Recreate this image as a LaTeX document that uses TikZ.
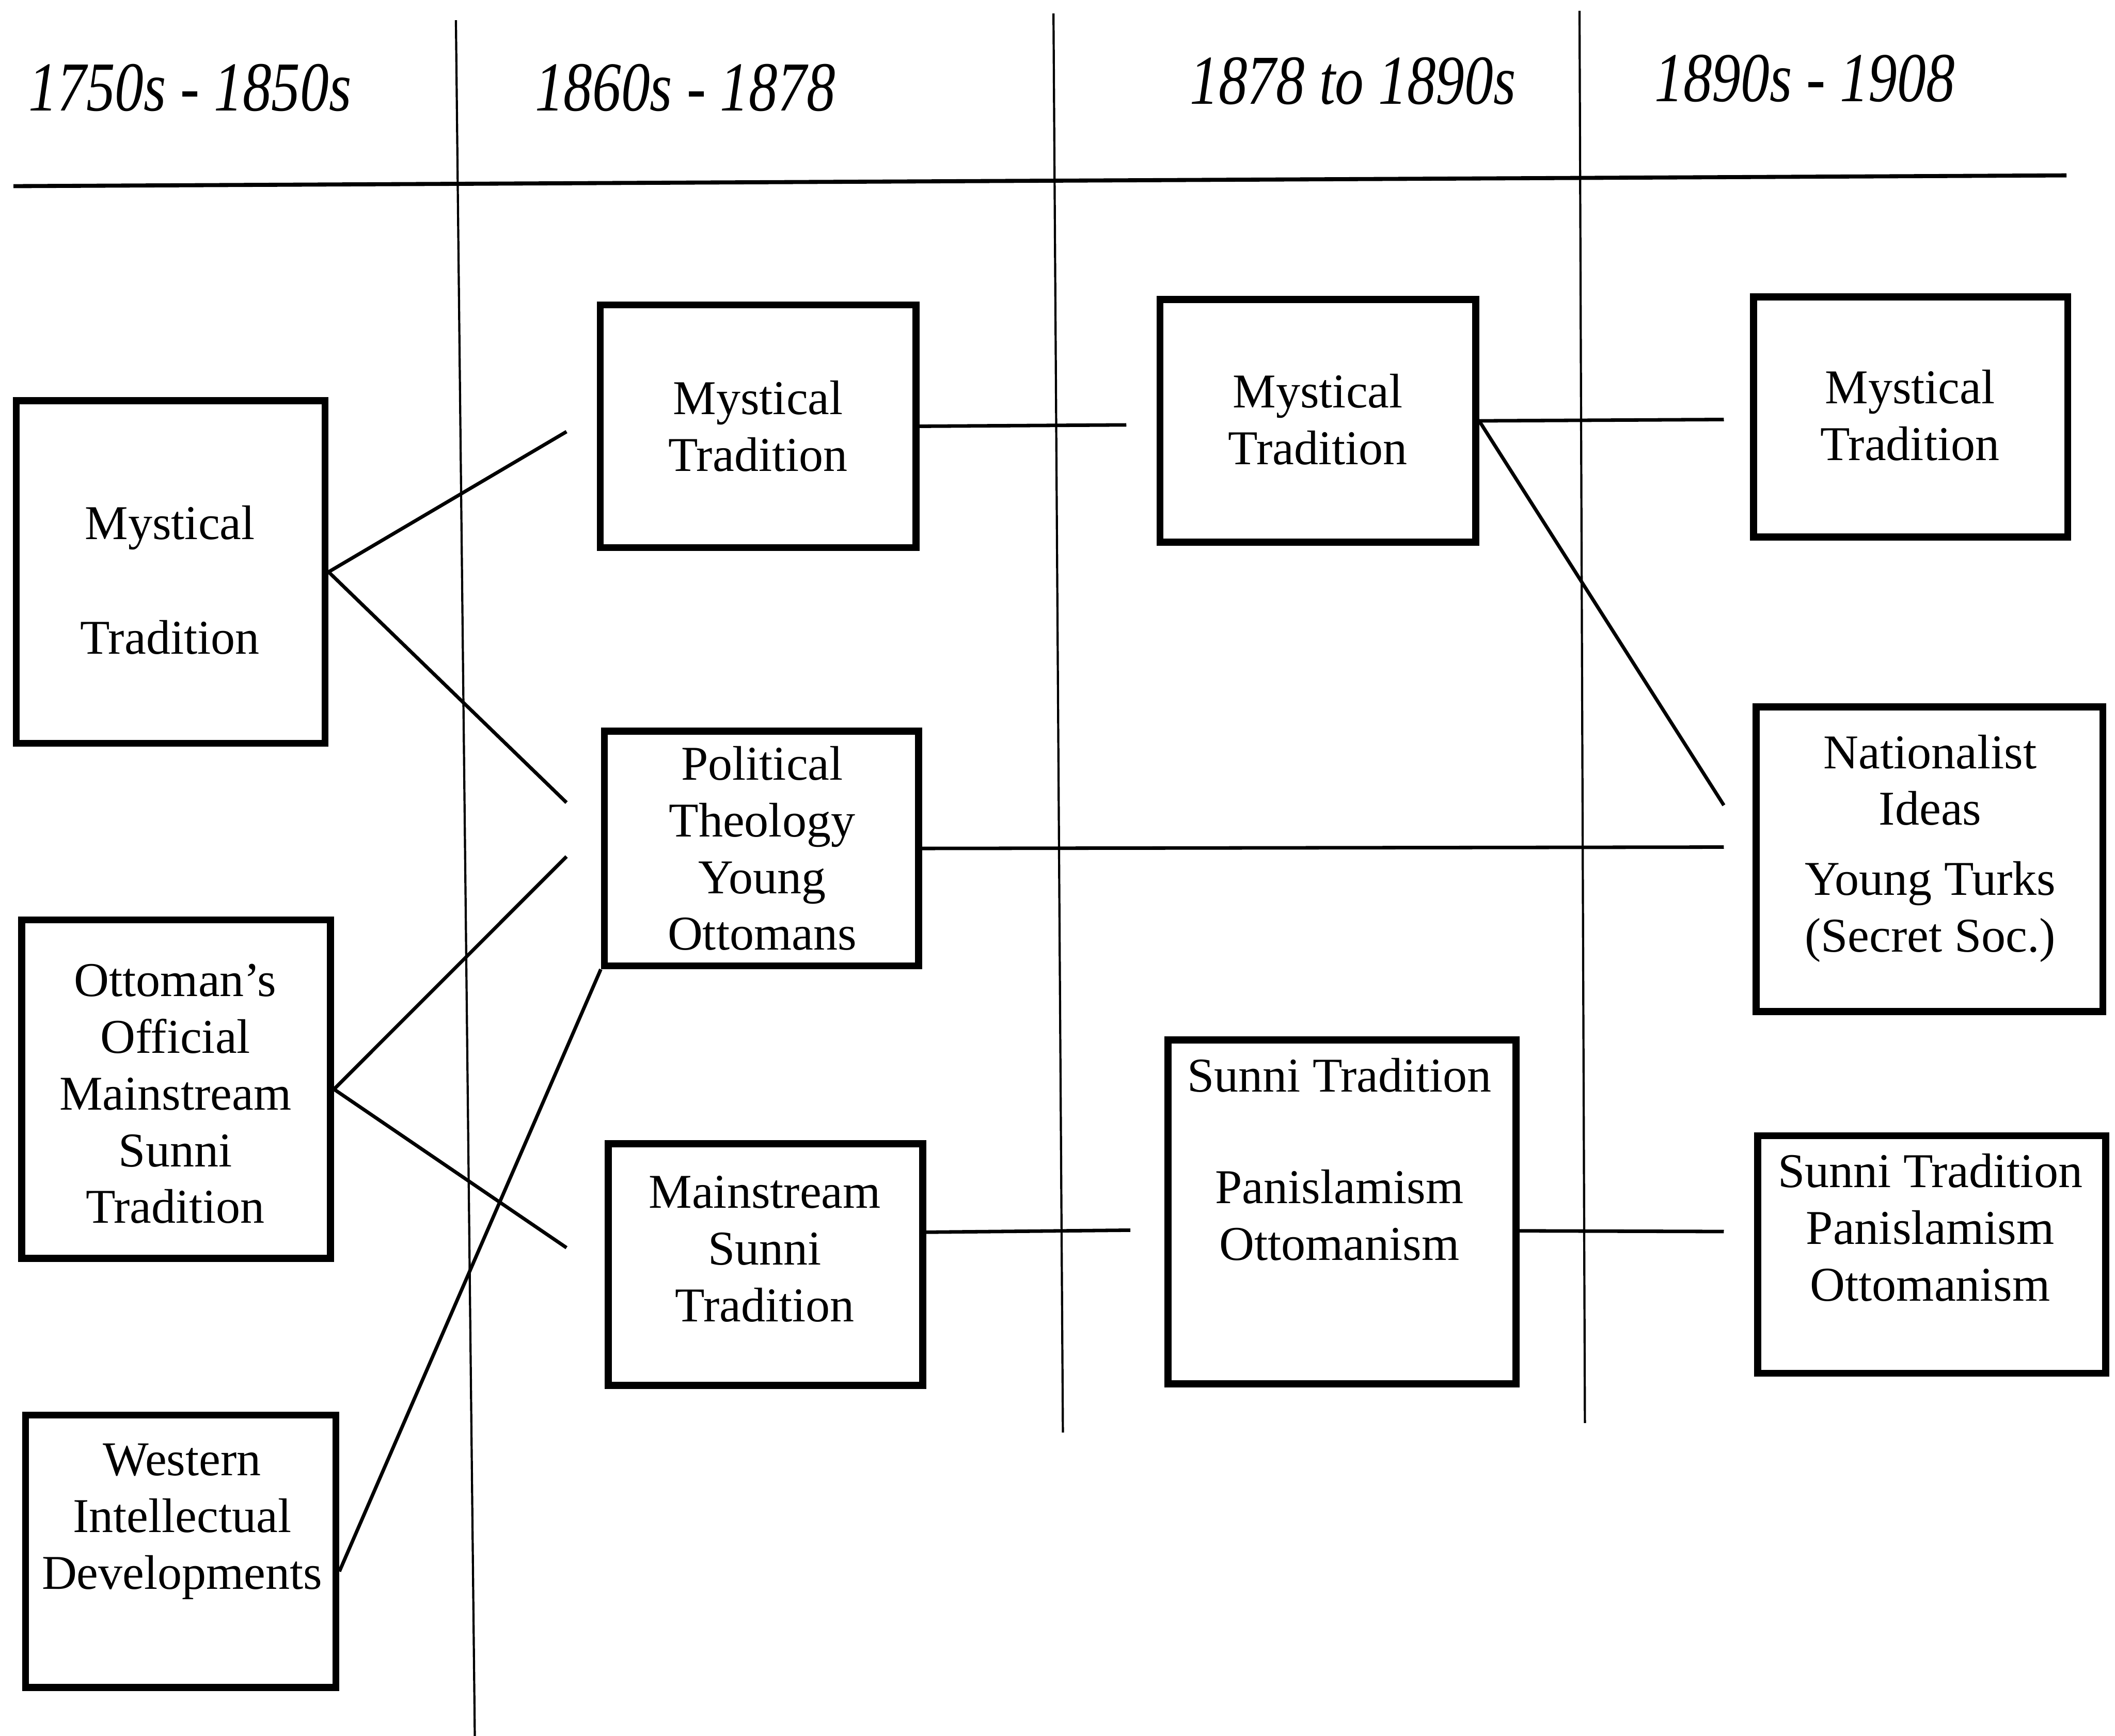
\documentclass[tikz,border=0pt]{standalone}
\usepackage{fontspec}
\setmainfont{Liberation Serif}
\newfontfamily\hdfont[FakeStretch=0.82]{Liberation Serif}
\begin{document}
\begin{tikzpicture}[x=0.5pt,y=-0.5pt,
  box/.style 2 args={draw,line width=2.6pt,inner sep=0pt,minimum width=#1*0.5pt,minimum height=#2*0.5pt},
  txt/.style={align=center,inner sep=0pt,font=\fontsize{18}{21}\selectfont},
  hd/.style={inner sep=0pt,font=\hdfont\itshape\fontsize{26}{30}\selectfont},
  conn/.style={line width=1.3pt},
  divider/.style={line width=0.8pt}]
\useasboundingbox (0,0) rectangle (1568,1287);
% headers
\node[hd] (h1) at (141,65) {1750s - 1850s};
\node[hd] (h2) at (508,65) {1860s - 1878};
\node[hd] (h3) at (1003,60) {1878 to 1890s};
\node[hd] (h4) at (1338,58) {1890s - 1908};
% dividers
\draw[line width=1.5pt] (10,138) -- (1532,130);
\draw[divider] (338,15) -- (352,1287);
\draw[divider] (781,10) -- (788,1062);
\draw[divider] (1171,8) -- (1175,1055);
% boxes
\node[box={229}{254}] (A) at (126.5,424) {};
\node[box={229}{251}] (B) at (130.5,807.5) {};
\node[box={230}{202}] (C) at (134,1150) {};
\node[box={234}{180}] (D) at (562,316) {};
\node[box={233}{174}] (E) at (564.5,629) {};
\node[box={233}{179}] (F) at (567.5,937.5) {};
\node[box={234}{180}] (G) at (977,312) {};
\node[box={258}{255}] (H) at (995,898.5) {};
\node[box={233}{178}] (I) at (1416.5,309) {};
\node[box={257}{226}] (J) at (1430.5,637) {};
\node[box={258}{176}] (K) at (1432,930) {};
% texts
\node[txt] (tA) at (126,430) {Mystical\\[21.5pt]Tradition};
\node[txt] (tB) at (130,811) {Ottoman’s\\Official\\Mainstream\\Sunni\\Tradition};
\node[txt] (tC) at (135,1128) {Western\\Intellectual\\Developments};
\node[txt] (tD) at (562,316) {Mystical\\Tradition};
\node[txt] (tE) at (565,629) {Political\\Theology\\Young\\Ottomans};
\node[txt] (tF) at (567,926) {Mainstream\\Sunni\\Tradition};
\node[txt] (tG) at (977,311) {Mystical\\Tradition};
\node[txt] (tH1) at (993,797) {Sunni Tradition};
\node[txt] (tH2) at (993,901) {Panislamism\\Ottomanism};
\node[txt] (tI) at (1416,308) {Mystical\\Tradition};
\node[txt] (tJ) at (1431,629) {Nationalist\\Ideas\\[5pt]Young Turks\\(Secret Soc.)};
\node[txt] (tK) at (1431,910) {Sunni Tradition\\Panislamism\\Ottomanism};
% free connector ends
\coordinate (cAD) at (420,320);
\coordinate (cAE) at (420,595);
\coordinate (cBE) at (420,635);
\coordinate (cBF) at (420,925);
\coordinate (cDG) at (835,315);
\coordinate (cEJ) at (1278,628);
\coordinate (cFH) at (838,912);
\coordinate (cGI) at (1278,311);
\coordinate (cGJ) at (1278,597);
\coordinate (cHK) at (1278,913);
% connectors
\draw[conn] (A.east) -- (cAD);
\draw[conn] (A.east) -- (cAE);
\draw[conn] (B.east) -- (cBE);
\draw[conn] (B.east) -- (cBF);
\draw[conn] ([yshift=-7.5pt]C.east) -- (E.south west);
\draw[conn] (D.east) -- (cDG);
\draw[conn] (E.east) -- (cEJ);
\draw[conn] ([yshift=12pt]F.east) -- (cFH);
\draw[conn] (G.east) -- (cGI);
\draw[conn] (G.east) -- (cGJ);
\draw[conn] ([yshift=-7pt]H.east) -- (cHK);
\end{tikzpicture}
\end{document}
